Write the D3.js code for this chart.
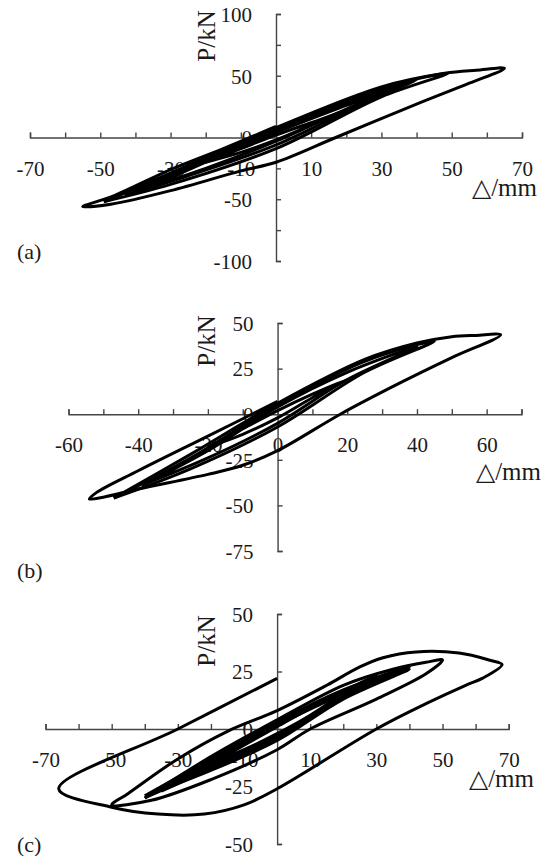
<!DOCTYPE html>
<html>
<head>
<meta charset="utf-8">
<script src="https://cdn.jsdelivr.net/npm/d3@7"></script>
<style>
  body { margin: 0; background: #fff; }
  text { font-family: "Liberation Serif", "Times New Roman", serif; fill: #1a1a1a; }
</style>
</head>
<body>
<div id="figura"></div>
<script>
// DATOS. Desplazamiento en mm, carga en kN.

// (a)
const ticksXa = [-70,-60,-50,-40,-30,-20,-10,0,10,20,30,40,50,60,70];
const labelsXa = [-70,-50,-30,-10,10,30,50,70];
const ticksYa = [-100,-75,-50,-25,0,25,50,75,100];
const labelsYa = [-100,-50,0,50,100];
const cyclesA = [
  [[-20,-20],[-10,-9],[0,2],[10,12],[20,22],[10,10],[0,-2],[-10,-12],[-20,-20]],
  [[-36,-40],[-20,-20],[0,4],[20,26],[36,43],[20,23],[0,-3],[-20,-25],[-36,-40]],
  [[-43,-47],[-25,-25],[0,6],[25,33],[40,47],[25,28],[0,-6],[-25,-31],[-43,-47]],
  [[-49,-52],[-30,-29],[0,6],[30,40],[49,52],[30,33],[0,-9],[-30,-38],[-49,-52]]
];
const finalA = [[-49,-52],[-30,-29],[0,8],[30,41],[48,52],[57,54.5],[65,56],[55,44],[40,27],
  [17,0],[0,-20],[-10,-27],[-30,-43],[-47,-54],[-55,-56],[-46,-47],[-30,-26],[-15,-9],[0,9]];

// (b)
const ticksXb = [-60,-50,-40,-30,-20,-10,0,10,20,30,40,50,60,70];
const labelsXb = [-60,-40,-20,0,20,40,60];
const ticksYb = [-75,-50,-25,0,25,50];
const labelsYb = [-75,-50,-25,0,25,50];
const cyclesB = [
  [[-20,-18],[-10,-8],[0,2],[10,11],[20,19],[10,9],[0,-2],[-10,-11],[-20,-18]],
  [[-39,-39],[-20,-20],[0,4],[20,23],[40,37],[20,19],[0,-5],[-20,-24],[-39,-39]],
  [[-47,-46],[-25,-24],[0,5],[25,29],[45,40],[25,23],[0,-7],[-25,-30],[-47,-46]]
];
const finalB = [[-47,-46],[-25,-22],[0,6],[25,30],[40,39],[50,42.5],[57,43.2],[64,43.5],[50,31],
  [35,17],[18,0],[0,-20],[-10,-28],[-20,-33],[-40,-41],[-50,-45.5],[-54,-46.5],[-52,-43],
  [-40,-31],[-20,-12],[0,7]];

// (c)
const ticksXc = [-70,-60,-50,-40,-30,-20,-10,0,10,20,30,40,50,60,70];
const labelsXc = [-70,-50,-30,-10,10,30,50,70];
const ticksYc = [-50,-25,0,25,50];
const labelsYc = [-50,-25,0,25,50];
const cyclesC = [
  [[-20,-15],[-10,-7],[0,1],[10,9],[20,16],[10,6],[0,-2],[-10,-9],[-20,-15]],
  [[-30,-22],[-15,-10],[0,2],[15,13],[30,23],[15,10],[0,-3],[-15,-13],[-30,-22]],
  [[-30,-23],[-15,-11],[0,1.5],[15,12],[30,22],[15,9],[0,-3.5],[-15,-14],[-30,-23]],
  [[-35,-27],[-18,-12],[0,2],[18,15],[36,25],[18,12],[0,-4],[-18,-16],[-35,-27]],
  [[-40,-30],[-20,-14],[0,3],[20,17],[40,27],[20,14],[0,-4],[-20,-17],[-40,-30]],
  [[-40,-29],[-20,-13],[0,2.5],[20,16],[40,26],[20,13],[0,-5],[-20,-18],[-40,-29]]
];
const finalC = [[-40,-30],[-20,-12],[0,4],[20,19],[35,26],[45,29],[50,30],[45,24],[30,13],
  [10,0],[0,-9],[-20,-22],[-38,-31],[-50,-33],[-45,-28],[-30,-13],[-15,-1],[0,8],[15,19],
  [25,27],[32,31],[42,33.5],[55,33],[64,30],[68,28],[62,22],[57,19],[45,11],[30,0],[0,-26],
  [-10,-33],[-22,-37],[-36,-37],[-50,-34],[-66,-26],[-30,0],[0,22]];

// MAQUETADO.
const svg = d3.select("#figura").append("svg")
  .attr("width", 549).attr("height", 856);

const paneles = [
  { xDom: [-70,70], xRange: [30,522], yDom: [-100,100], yRange: [261,14],
    ticksX: ticksXa, labelsX: labelsXa, ticksY: ticksYa, labelsY: labelsYa,
    curvas: cyclesA.concat([finalA]), letra: "(a)", letraPos: [17,259],
    pkn: 36, mm: [537,196] },
  { xDom: [-60,70], xRange: [68.5,521.5], yDom: [-75,50], yRange: [551,323],
    ticksX: ticksXb, labelsX: labelsXb, ticksY: ticksYb, labelsY: labelsYb,
    curvas: cyclesB.concat([finalB]), letra: "(b)", letraPos: [17,578],
    pkn: 341, mm: [541,480] },
  { xDom: [-70,70], xRange: [45.5,508.7], yDom: [-50,50], yRange: [844,614],
    ticksX: ticksXc, labelsX: labelsXc, ticksY: ticksYc, labelsY: labelsYc,
    curvas: cyclesC.concat([finalC]), letra: "(c)", letraPos: [17,852],
    pkn: 641, mm: [534,787] }
];

function pintarPanel(p){
  const x = d3.scaleLinear().domain(p.xDom).range(p.xRange);
  const y = d3.scaleLinear().domain(p.yDom).range(p.yRange);
  const g = svg.append("g");

  // eje x: marcas hacia arriba, textos debajo
  const ejeX = g.append("g")
    .attr("transform", "translate(0," + y(0) + ")")
    .call(d3.axisTop(x).tickValues(p.ticksX).tickSizeInner(5).tickSizeOuter(5)
      .tickFormat(d => p.labelsX.includes(d) ? d : ""));
  ejeX.selectAll("text")
    .attr("y", 38).attr("dy", null)
    .attr("font-size", 21).attr("font-family", null);

  // eje y: marcas a la derecha, textos a la izquierda
  const ejeY = g.append("g")
    .attr("transform", "translate(" + x(0) + ",0)")
    .call(d3.axisRight(y).tickValues(p.ticksY).tickSizeInner(5).tickSizeOuter(5)
      .tickFormat(d => p.labelsY.includes(d) ? d : ""));
  ejeY.selectAll("text")
    .attr("x", -24).attr("dy", "0.35em")
    .attr("text-anchor", "end")
    .attr("font-size", 21).attr("font-family", null);

  g.selectAll(".domain, .tick line")
    .attr("stroke", "#444").attr("stroke-width", 1.4);

  // curvas de histeresis
  const linea = d3.line()
    .x(d => x(d[0])).y(d => y(d[1]))
    .curve(d3.curveCatmullRom.alpha(0.5));
  g.selectAll("path.curva")
    .data(p.curvas).enter()
    .append("path")
    .attr("class", "curva")
    .attr("d", linea)
    .attr("fill", "none")
    .attr("stroke", "#000")
    .attr("stroke-width", 3)
    .attr("stroke-linejoin", "round");

  // titulos
  g.append("text")
    .attr("transform", "translate(215," + p.pkn + ") rotate(-90)")
    .attr("text-anchor", "middle")
    .attr("font-size", 25)
    .text("P/kN");
  g.append("text")
    .attr("x", p.mm[0]).attr("y", p.mm[1])
    .attr("text-anchor", "end")
    .attr("font-size", 25)
    .text("\u25B3/mm");
  g.append("text")
    .attr("x", p.letraPos[0]).attr("y", p.letraPos[1])
    .attr("font-size", 22)
    .text(p.letra);
}

paneles.forEach(pintarPanel);
</script>
</body>
</html>
